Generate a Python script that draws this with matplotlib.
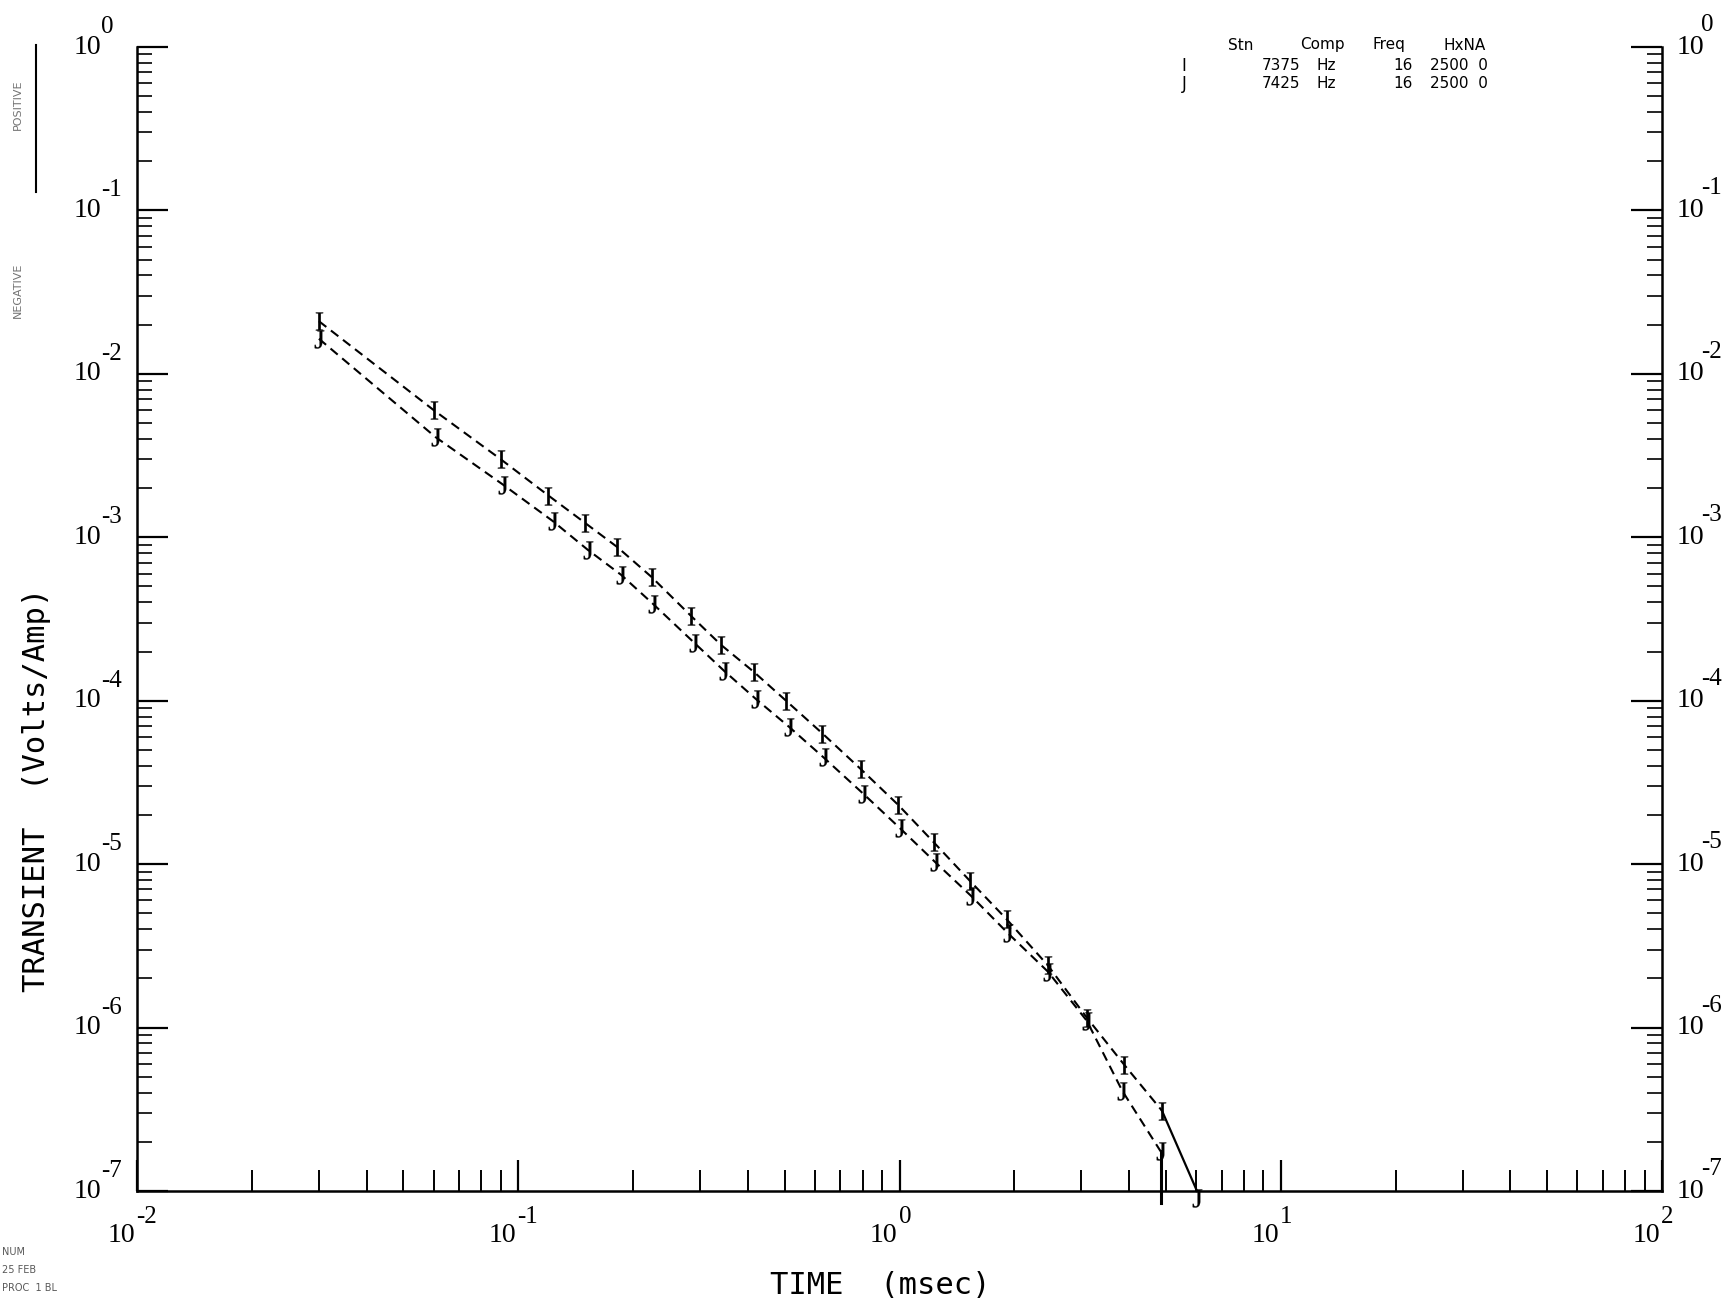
import matplotlib
matplotlib.use('Agg')
import matplotlib.pyplot as plt
from matplotlib.ticker import LogLocator, NullFormatter
import numpy as np

plt.rcParams['mathtext.fontset'] = 'custom'
plt.rcParams['mathtext.rm'] = 'Liberation Serif'

# station I (upper curve)
time_i = [0.030, 0.060, 0.090, 0.120, 0.150, 0.182, 0.224, 0.284, 0.340, 0.415,
          0.504, 0.628, 0.793, 0.993, 1.23, 1.53, 1.91, 2.45, 3.10, 3.89, 4.88]
volt_i = [2.1e-2, 6.0e-3, 3.0e-3, 1.8e-3, 1.22e-3, 8.7e-4, 5.7e-4, 3.3e-4, 2.2e-4, 1.5e-4,
          1.0e-4, 6.3e-5, 3.8e-5, 2.3e-5, 1.36e-5, 7.9e-6, 4.6e-6, 2.4e-6, 1.15e-6, 5.9e-7, 3.1e-7]
# solid tail (sign change)
tail_i_t = [4.88, 6.03]
tail_i_v = [3.1e-7, 1.0e-7]

# station J (lower curve)
time_j = [0.030, 0.0607, 0.0912, 0.123, 0.152, 0.186, 0.226, 0.289, 0.347, 0.421,
          0.514, 0.632, 0.803, 1.0, 1.24, 1.54, 1.92, 2.45, 3.10, 3.84, 4.84]
volt_j = [1.64e-2, 4.1e-3, 2.1e-3, 1.26e-3, 8.4e-4, 5.9e-4, 3.9e-4, 2.27e-4, 1.52e-4, 1.02e-4,
          6.9e-5, 4.5e-5, 2.7e-5, 1.67e-5, 1.03e-5, 6.4e-6, 3.8e-6, 2.2e-6, 1.1e-6, 4.1e-7, 1.75e-7]
tail_j_t = [4.86, 4.86]
tail_j_v = [1.75e-7, 8.5e-8]

x_decades = [-2, -1, 0, 1, 2]
y_decades = [0, -1, -2, -3, -4, -5, -6, -7]

header = ['Stn', 'Comp', 'Freq', 'HxNA']
rows = [['I', '7375', 'Hz', '16', '2500  0'],
        ['J', '7425', 'Hz', '16', '2500  0']]

W, H = 1723, 1304
fig = plt.figure(figsize=(W / 100, H / 100), dpi=100)
ax = fig.add_axes([137 / W, 1 - 1191 / H, (1662 - 137) / W, (1191 - 47) / H])

ax.set_xscale('log')
ax.set_yscale('log')
ax.set_xlim(10.0 ** x_decades[0], 10.0 ** x_decades[-1])
ax.set_ylim(10.0 ** y_decades[-1], 10.0 ** y_decades[0])

dash = (0, (4.5, 2.8))
ax.plot(time_i, volt_i, color='black', lw=1.5, ls=dash)
ax.plot(time_j, volt_j, color='black', lw=1.5, ls=dash)
ax.plot(tail_i_t, tail_i_v, color='black', lw=1.6, clip_on=False)
ax.plot(tail_j_t, tail_j_v, color='black', lw=2.2, clip_on=False)

mk = dict(ls='none', ms=13, mew=0.2, color='black')
ax.plot(time_i, volt_i, marker=r'$\mathrm{I}$', **mk)
ax.plot(time_j, volt_j, marker=r'$\mathrm{J}$', **mk)
ax.plot(tail_i_t[-1:], [9e-8], marker=r'$\mathrm{J}$', clip_on=False, **mk)

# axes frame: no top line
ax.spines['top'].set_visible(False)
for s in ['left', 'right', 'bottom']:
    ax.spines[s].set_linewidth(1.8)

for axis in [ax.xaxis, ax.yaxis]:
    axis.set_major_locator(LogLocator(base=10, numticks=10))
    axis.set_minor_locator(LogLocator(base=10, subs=np.arange(2, 10), numticks=10))
    axis.set_major_formatter(NullFormatter())
    axis.set_minor_formatter(NullFormatter())

ax.tick_params(axis='x', which='major', direction='in', length=22, width=1.6, top=False)
ax.tick_params(axis='x', which='minor', direction='in', length=15, width=1.4, top=False)
ax.tick_params(axis='y', which='major', direction='in', length=22, width=1.6,
               left=True, right=True)
ax.tick_params(axis='y', which='minor', direction='in', length=11, width=1.2,
               left=True, right=True)

# plotter-style decade labels: "10" with a large raised exponent
lab = dict(family='Liberation Serif', color='black', textcoords='offset pixels',
           annotation_clip=False)
ytr = ax.get_yaxis_transform()
xtr = ax.get_xaxis_transform()
for e in y_decades:
    ax.annotate('10', (0, 10.0 ** e), xycoords=ytr, xytext=(-36, 0), ha='right', va='center',
                fontsize=20, **lab)
    ax.annotate(str(e), (0, 10.0 ** e), xycoords=ytr, xytext=(-36, 20), ha='left', va='center',
                fontsize=18, **lab)
    ax.annotate('10', (1, 10.0 ** e), xycoords=ytr, xytext=(15, 0), ha='left', va='center',
                fontsize=20, **lab)
    ax.annotate(str(e), (1, 10.0 ** e), xycoords=ytr, xytext=(39, 22), ha='left', va='center',
                fontsize=18, **lab)
for e in x_decades:
    ax.annotate('10', (10.0 ** e, 0), xycoords=xtr, xytext=(-2, -45), ha='right', va='center',
                fontsize=20, **lab)
    ax.annotate(str(e), (10.0 ** e, 0), xycoords=xtr, xytext=(-1, -26), ha='left', va='center',
                fontsize=18, **lab)

fig.text(880 / W, 1 - 1286 / H, 'TIME  (msec)', fontsize=22, family='DejaVu Sans Mono',
         ha='center', va='center')
fig.text(37 / W, 1 - 790 / H, 'TRANSIENT  (Volts/Amp)', fontsize=22, family='DejaVu Sans Mono',
         ha='center', va='center', rotation=90)

# station table, top right
hx = [1241, 1322, 1389, 1465]
for x, t in zip(hx, header):
    fig.text(x / W, 1 - 45 / H, t, fontsize=11, ha='center', va='center')
for r, y in zip(rows, [66, 84]):
    fig.text(1184 / W, 1 - y / H, r[0], fontsize=12, ha='center', va='center')
    fig.text(1300 / W, 1 - y / H, r[1], fontsize=11, ha='right', va='center')
    fig.text(1326 / W, 1 - y / H, r[2], fontsize=11, ha='center', va='center')
    fig.text(1413 / W, 1 - y / H, r[3], fontsize=11, ha='right', va='center')
    fig.text(1430 / W, 1 - y / H, r[4], fontsize=11, ha='left', va='center')

# faint line-style key on the left
fig.text(18 / W, 1 - 105 / H, 'POSITIVE', fontsize=8, color='0.45', rotation=90,
         ha='center', va='center')
fig.text(18 / W, 1 - 290 / H, 'NEGATIVE', fontsize=8, color='0.45', rotation=90,
         ha='center', va='center')
fig.add_artist(plt.Line2D([36 / W, 36 / W], [1 - 45 / H, 1 - 192 / H], color='black', lw=1.5))

# faint run notes, bottom left
for i, t in enumerate(['NUM', '25 FEB', 'PROC  1 BL']):
    fig.text(2 / W, 1 - (1252 + i * 18) / H, t, fontsize=7, color='0.35', va='center')

fig.savefig('out.png', dpi=100, facecolor='white')
